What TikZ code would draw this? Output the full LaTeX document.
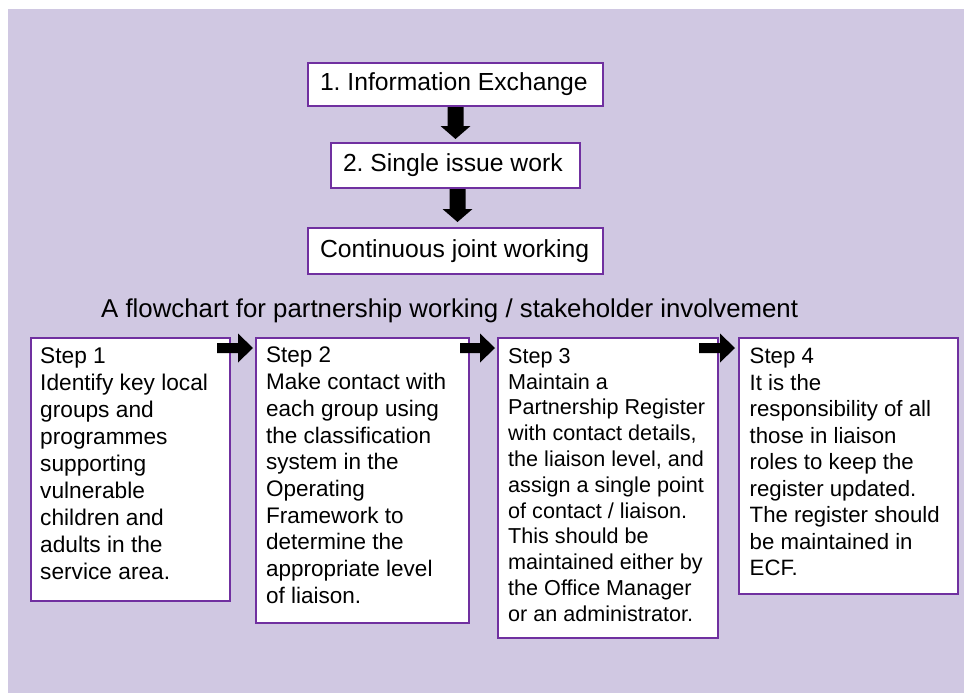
\documentclass[tikz,border=0pt]{standalone}
\usepackage{fontspec}
\setmainfont{Liberation Sans}
\usetikzlibrary{calc}
\definecolor{lavender}{HTML}{D0C8E2}
\definecolor{boxpurple}{HTML}{7030A0}
\frenchspacing
\begin{document}
\begin{tikzpicture}[x=1pt,y=-1pt,
  stagebox/.style={draw=boxpurple, line width=2pt, fill=white, anchor=north west,
    inner xsep=12pt, inner ysep=0pt,
    font=\fontsize{24.7pt}{30pt}\selectfont},
  stepbox/.style={draw=boxpurple, line width=2pt, fill=white, anchor=north west,
    inner sep=0pt},
  steptext/.style={anchor=north west, inner sep=0pt, align=left},
  titletext/.style={anchor=base west, inner sep=0pt,
    font=\fontsize{25.8pt}{30pt}\selectfont},
  % solid block arrow pointing down (shaft 16pt, head 30pt wide, 13pt long)
  downblock/.style={to path={let \p1=(\tikztostart), \p2=(\tikztotarget) in
    (\x1-8pt,\y1) -- (\x1-8pt,\y2+13pt) -- (\x1-15pt,\y2+13pt) -- (\x1,\y2)
    -- (\x1+15pt,\y2+13pt) -- (\x1+8pt,\y2+13pt) -- (\x1+8pt,\y1) -- cycle}},
  % solid block arrow pointing right (shaft 10pt, head 29pt wide, 15pt long)
  rightblock/.style={to path={let \p1=(\tikztostart), \p2=(\tikztotarget) in
    (\x1,\y1+5pt) -- (\x2-15pt,\y1+5pt) -- (\x2-15pt,\y1+14.5pt) -- (\x2,\y1)
    -- (\x2-15pt,\y1-14.5pt) -- (\x2-15pt,\y1-5pt) -- (\x1,\y1-5pt) -- cycle}},
]
\useasboundingbox (0,0) rectangle (964,693);
\fill[lavender] (8,9) rectangle (964,693);

% stages of partnership
\node[stagebox, minimum height=43pt] (b1) at (307,62) {\makebox[271pt][l]{1. Information Exchange}};
\node[stagebox, minimum height=45pt] (b2) at (330,142) {\makebox[225pt][l]{2. Single issue work}};
\node[stagebox, minimum height=46pt] (b3) at (307,227) {\makebox[271pt][l]{Continuous joint working}};

\fill (b1.south) to[downblock] ([yshift=3pt]b2.north);
\fill ([xshift=2pt]b2.south) to[downblock] ([shift={(2pt,5pt)}]b3.north);

\node[titletext] (title) at (101,317) {A flowchart for partnership working / stakeholder involvement};

% the four steps
\node[stepbox, minimum width=199pt, minimum height=263pt] (s1) at (30,337) {};
\node[stepbox, minimum width=213pt, minimum height=285pt] (s2) at (255,337) {};
\node[stepbox, minimum width=220pt, minimum height=300pt] (s3) at (497,337) {};
\node[stepbox, minimum width=219pt, minimum height=256pt] (s4) at (738,337) {};

\node[steptext, font=\fontsize{22.7pt}{27.1pt}\selectfont] (s1t) at ([shift={(10pt,-10pt)}]s1.north west)
  {Step 1\\Identify key local\\groups and\\programmes\\supporting\\vulnerable\\children and\\adults in the\\service area.};
\node[steptext, font=\fontsize{22.5pt}{26.7pt}\selectfont] (s2t) at ([shift={(11pt,-10pt)}]s2.north west)
  {Step 2\\Make contact with\\each group using\\the classification\\system in the\\Operating\\Framework to\\determine the\\appropriate level\\of liaison.};
\node[steptext, font=\fontsize{21.6pt}{25.8pt}\selectfont] (s3t) at ([shift={(11pt,-11pt)}]s3.north west)
  {Step 3\\Maintain a\\Partnership Register\\with contact details,\\the liaison level, and\\assign a single point\\of contact / liaison.\\This should be\\maintained either by\\the Office Manager\\or an administrator.};
\node[steptext, font=\fontsize{22.2pt}{26.5pt}\selectfont] (s4t) at ([shift={(11.5pt,-11pt)}]s4.north west)
  {Step 4\\It is the\\responsibility of all\\those in liaison\\roles to keep the\\register updated.\\The register should\\be maintained in\\ECF.};

\fill ([shift={(-14pt,-11pt)}]s1.north east) to[rightblock] ([shift={(-2pt,-11pt)}]s2.north west);
\fill ([shift={(-10pt,-11pt)}]s2.north east) to[rightblock] ([shift={(-2pt,-11pt)}]s3.north west);
\fill ([shift={(-20pt,-11pt)}]s3.north east) to[rightblock] ([shift={(-3pt,-11pt)}]s4.north west);
\end{tikzpicture}
\end{document}
